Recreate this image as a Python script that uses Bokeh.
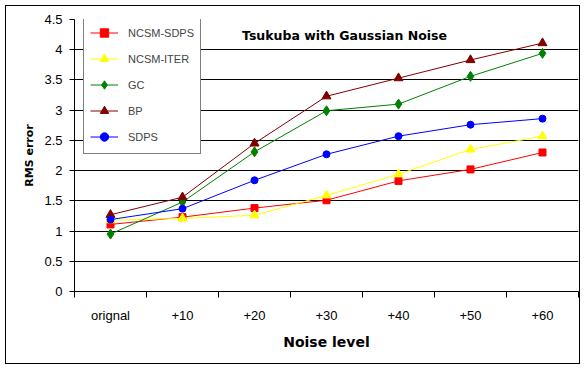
from bokeh.plotting import figure
from bokeh.models import (Range1d, FixedTicker, NumeralTickFormatter, Legend, LegendItem, Label)
from bokeh.embed import file_html
from bokeh.resources import INLINE

categories = ["orignal", "+10", "+20", "+30", "+40", "+50", "+60"]
ncsm_sdps = [1.11, 1.23, 1.38, 1.51, 1.83, 2.02, 2.30]
ncsm_iter = [1.18, 1.21, 1.26, 1.59, 1.94, 2.35, 2.57]
gc = [0.95, 1.48, 2.31, 2.99, 3.10, 3.56, 3.94]
bp = [1.27, 1.56, 2.45, 3.23, 3.53, 3.83, 4.11]
sdps = [1.19, 1.37, 1.84, 2.27, 2.57, 2.76, 2.86]
y_ticks = [0, 0.5, 1, 1.5, 2, 2.5, 3, 3.5, 4, 4.5]
grid_ticks = [0.5, 1, 1.5, 2, 2.5, 3, 3.5, 4]

xs = list(range(len(categories)))
bounds = [i - 0.5 for i in range(len(categories) + 1)]

p = figure(width=575, height=359, output_backend="svg", toolbar_location=None,
           x_range=Range1d(-0.5, len(categories) - 0.5), y_range=Range1d(0, 4.5),
           min_border_left=68, min_border_right=3, min_border_top=13, min_border_bottom=74)
p.styles = {"border": "1px solid black", "margin-left": "5px", "margin-top": "5px"}
p.outline_line_color = None
p.background_fill_color = "white"
p.border_fill_color = "white"

# x axis
p.xaxis.ticker = FixedTicker(ticks=xs, minor_ticks=bounds)
p.xaxis.major_label_overrides = {i: c for i, c in enumerate(categories)}
p.xaxis.major_tick_line_color = None
p.xaxis.major_tick_out = 0
p.xaxis.major_tick_in = 0
p.xaxis.minor_tick_line_color = "black"
p.xaxis.minor_tick_out = 6
p.xaxis.minor_tick_in = 0
p.xaxis.axis_line_color = "black"
p.xaxis.major_label_text_font = "Liberation Sans"
p.xaxis.major_label_text_font_size = "13px"
p.xaxis.major_label_text_color = "black"
p.xaxis.major_label_standoff = 10
p.xaxis.axis_label = "Noise level"
p.xaxis.axis_label_text_font = "DejaVu Sans"
p.xaxis.axis_label_text_font_style = "bold"
p.xaxis.axis_label_text_font_size = "14px"
p.xaxis.axis_label_text_color = "black"
p.xaxis.axis_label_standoff = 8

# y axis
p.yaxis.ticker = FixedTicker(ticks=y_ticks)
p.yaxis.formatter = NumeralTickFormatter(format="0.[0]")
p.yaxis.major_tick_out = 5
p.yaxis.major_tick_in = 0
p.yaxis.minor_tick_line_color = None
p.yaxis.axis_line_color = "black"
p.yaxis.major_tick_line_color = "black"
p.yaxis.major_label_text_font = "Liberation Sans"
p.yaxis.major_label_text_font_size = "13px"
p.yaxis.major_label_text_color = "black"
p.yaxis.major_label_standoff = 7
p.yaxis.axis_label = "RMS error"
p.yaxis.axis_label_text_font = "DejaVu Sans"
p.yaxis.axis_label_text_font_style = "bold"
p.yaxis.axis_label_text_font_size = "11px"
p.yaxis.axis_label_text_color = "black"
p.yaxis.axis_label_standoff = 5

p.xgrid.grid_line_color = None
p.ygrid.ticker = FixedTicker(ticks=grid_ticks)
p.ygrid.grid_line_color = "black"
p.ygrid.grid_line_width = 1

series = [
    ("NCSM-SDPS", ncsm_sdps, "#FF0000", "square", 7),
    ("NCSM-ITER", ncsm_iter, "#FFFF00", "triangle", 9),
    ("GC", gc, "#008000", "diamond", 10),
    ("BP", bp, "#800000", "triangle", 9),
    ("SDPS", sdps, "#0000FF", "circle", 7),
]
items = []
for name, vals, color, marker, size in series:
    r1 = p.line(xs, vals, line_color=color, line_width=1)
    r2 = p.scatter(xs, vals, marker=marker, size=size, fill_color=color, line_color=color)
    items.append(LegendItem(label=name, renderers=[r1, r2]))

legend = Legend(items=items, location=(9, 137), glyph_width=28, glyph_height=21,
                label_height=21, spacing=5, padding=6, label_standoff=10,
                label_text_font="Liberation Sans", label_text_font_size="11px",
                border_line_color="black", border_line_width=1,
                background_fill_color="white", background_fill_alpha=1.0, margin=0)
p.add_layout(legend)

title = Label(x=270, y=256, x_units="screen", y_units="screen",
              text="Tsukuba with Gaussian Noise", text_align="center", text_baseline="middle",
              text_font="DejaVu Sans", text_font_style="bold", text_font_size="12.5px",
              text_color="black")
p.add_layout(title)

open("out.html", "w").write(file_html(p, INLINE))
